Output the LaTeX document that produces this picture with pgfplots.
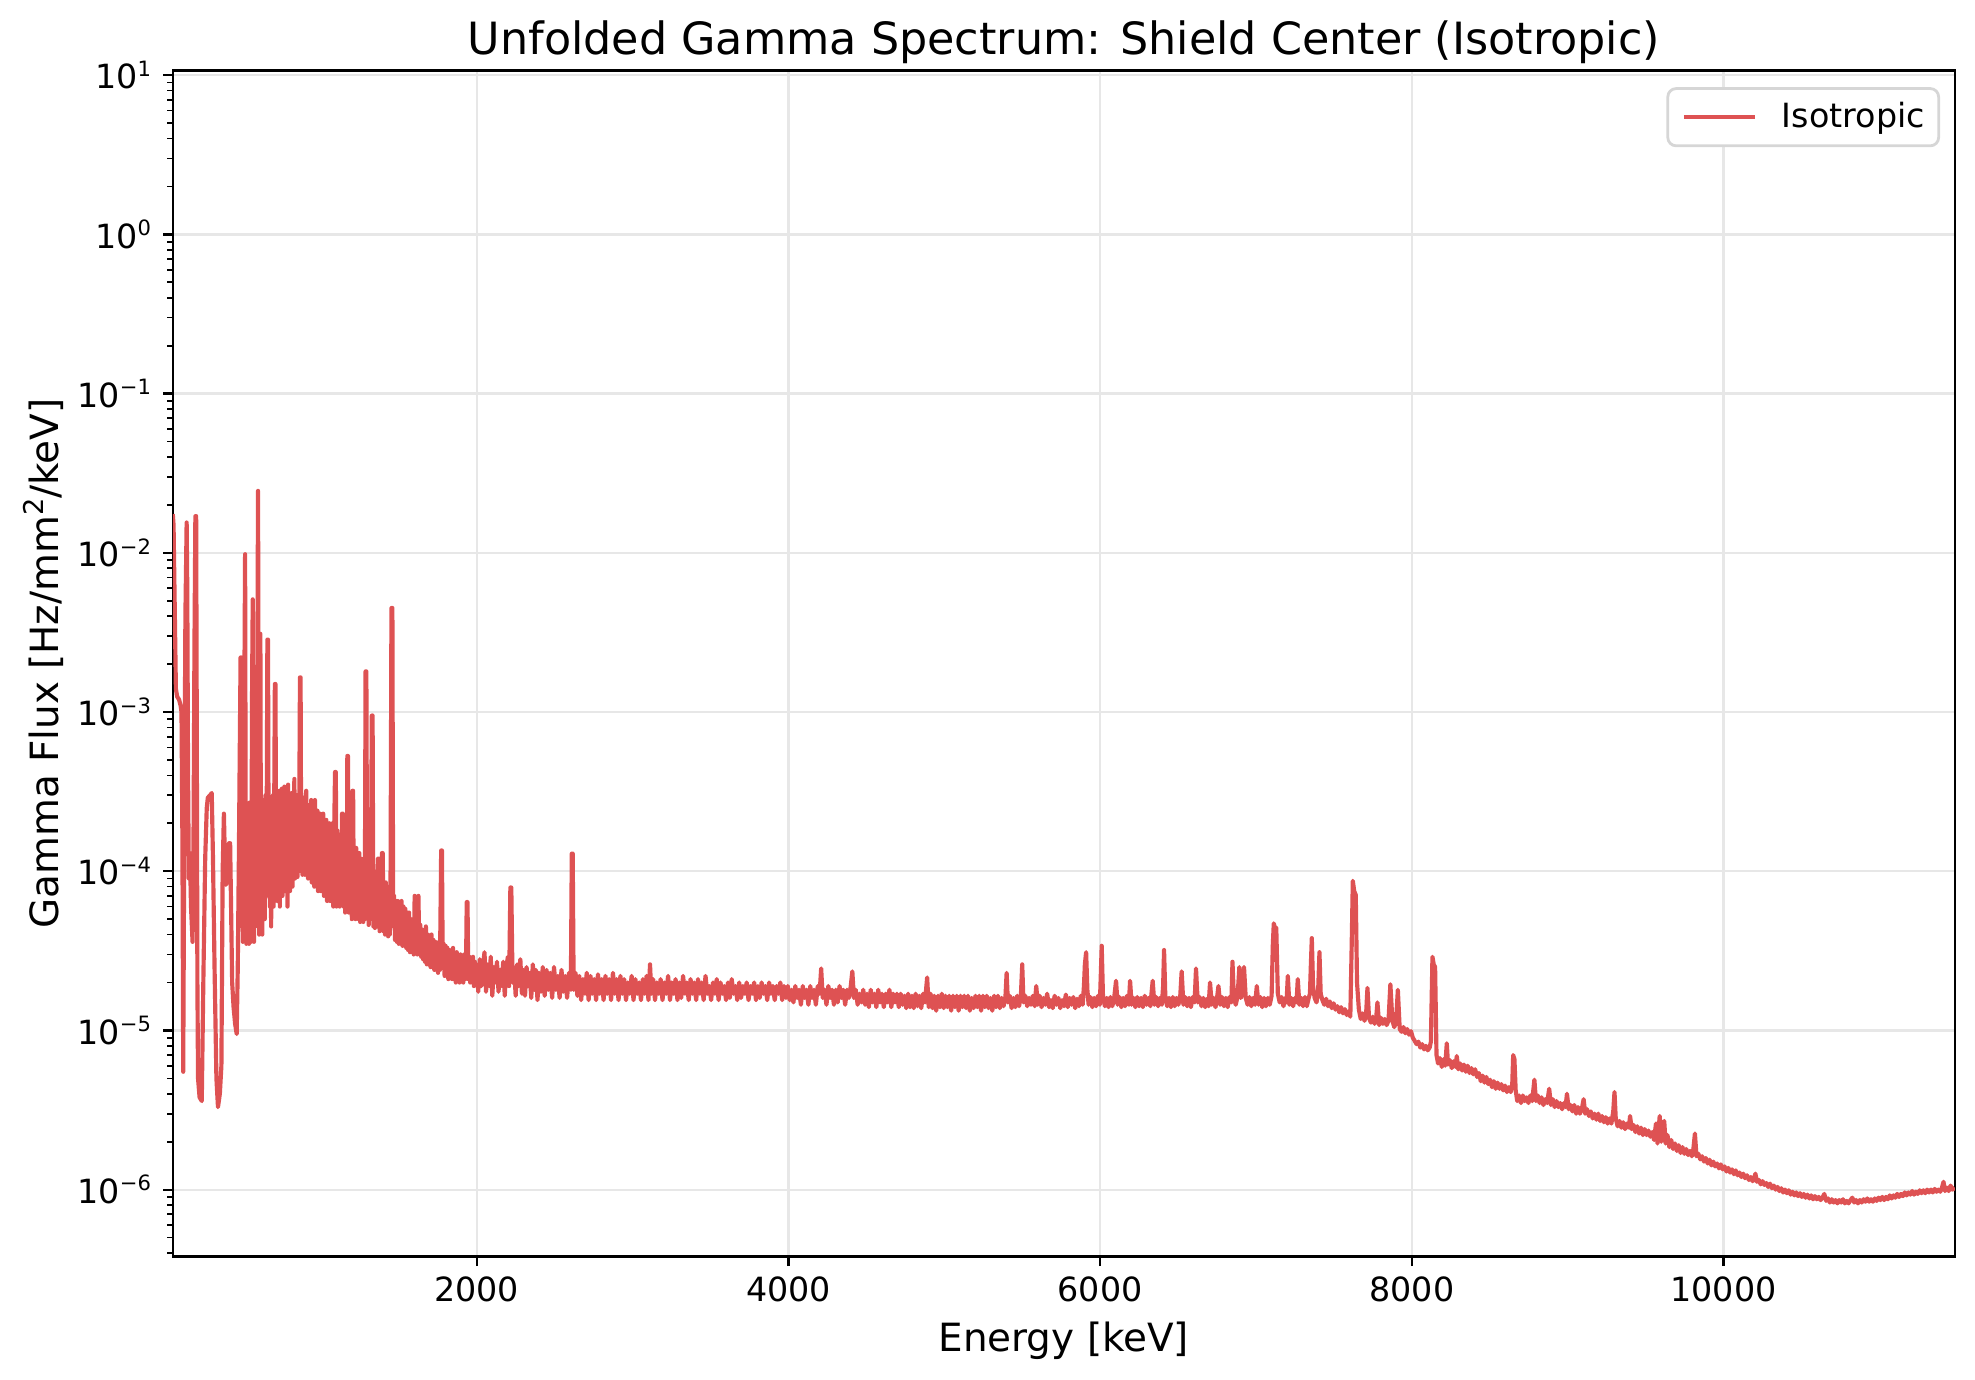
\documentclass[border=0pt]{standalone}
\usepackage{fontspec}
\setmainfont{DejaVu Sans}
\usepackage{pgfplots}
\pgfplotsset{compat=1.18}
\definecolor{isored}{RGB}{222,82,83}
\newcommand{\tsup}[1]{\raisebox{4.5pt}{\fontsize{7.6}{8}\selectfont #1}}
\begin{document}
\begin{tikzpicture}
\begin{axis}[
 scale only axis, width=641.5pt, height=426.96pt,
 xmin=50, xmax=11483, ymode=log, ymin=3.8e-7, ymax=10.7,
 scaled x ticks=false,
 xtick={2000,4000,6000,8000,10000}, xticklabels={2000,4000,6000,8000,10000},
 ytick={1e-6,1e-5,1e-4,1e-3,1e-2,1e-1,1,10},
 yticklabels={10\tsup{−6},10\tsup{−5},10\tsup{−4},10\tsup{−3},10\tsup{−2},10\tsup{−1},10\tsup{0},10\tsup{1}},
 minor ytick={4e-7,5e-7,6e-7,7e-7,8e-7,9e-7,
  2e-6,3e-6,4e-6,5e-6,6e-6,7e-6,8e-6,9e-6,
  2e-5,3e-5,4e-5,5e-5,6e-5,7e-5,8e-5,9e-5,
  2e-4,3e-4,4e-4,5e-4,6e-4,7e-4,8e-4,9e-4,
  2e-3,3e-3,4e-3,5e-3,6e-3,7e-3,8e-3,9e-3,
  2e-2,3e-2,4e-2,5e-2,6e-2,7e-2,8e-2,9e-2,
  0.2,0.3,0.4,0.5,0.6,0.7,0.8,0.9,
  2,3,4,5,6,7,8,9},
 xtick pos=left, ytick pos=left, tick align=outside,
 major tick length=3.5pt, minor tick length=2pt,
 every tick/.append style={black},
 every major tick/.append style={line width=0.8pt},
 every minor tick/.append style={line width=0.6pt},
 axis line style={line width=0.8pt},
 xmajorgrids, ymajorgrids, yminorgrids=false,
 major grid style={color=black!9.4, line width=0.8pt},
 tick label style={font=\fontsize{12}{14.4}\selectfont},
 xticklabel style={anchor=north, inner sep=0pt, yshift=-3.7pt},
 yticklabel style={anchor=east, inner sep=0pt, xshift=-4.1pt},
 title={Unfolded Gamma Spectrum: Shield Center (Isotropic)},
 every axis title/.style={at={(0.5,1)}, anchor=base, yshift=5.8pt, inner sep=0pt, font=\fontsize{16}{19}\selectfont},
 xlabel={Energy [keV]},
 xlabel style={at={(axis description cs:0.5,0)}, anchor=base, yshift=-34.3pt, inner sep=0pt, font=\fontsize{14}{17}\selectfont},
 ylabel={Gamma Flux [Hz/mm\raisebox{5.25pt}{\fontsize{9.8}{10}\selectfont 2}/keV]},
 ylabel style={at={(axis description cs:-0.06438,0.5)}, anchor=base, inner sep=0pt, font=\fontsize{14}{17}\selectfont},
 legend style={at={(1,1)}, anchor=north east, xshift=-5.3pt, yshift=-6pt, draw=black!16, line width=1pt, rounded corners=3pt, fill=white, inner xsep=5pt, inner ysep=5pt, column sep=9pt, nodes={inner sep=0pt}, font=\fontsize{12}{14.4}\selectfont},
 legend cell align=left,
 legend image code/.code={\draw[#1] (0pt,0pt) -- (25.6pt,0pt);},
]
\addplot[isored, line width=1.5pt, line join=round] table {
E v
50 1.75e-2
55 1.5e-2
62 5e-3
70 1.4e-3
78 1.25e-3
90 1.2e-3
100 1.1e-3
106 1.0e-3
112 1.5e-4
117 5.5e-6
124 2e-4
131 4e-3
139 1.55e-2
143 6e-3
148 4e-4
153 9e-5
160 1.3e-4
167 6e-5
177 3.6e-5
183 1.5e-4
189 2.5e-3
195 1.7e-2
200 1.7e-2
204 8e-4
208 2e-5
212 5e-6
222 3.8e-6
236 3.6e-6
246 2e-5
258 1.2e-4
268 2.5e-4
275 2.9e-4
290 3.0e-4
300 3.1e-4
308 1.2e-4
318 2.5e-5
330 5e-6
340 3.3e-6
352 4e-6
362 6e-6
370 1e-4
378 2.3e-4
386 1e-4
391 8.2e-5
397 1.2e-4
404 8.5e-5
411 1.5e-4
418 1.5e-4
424 6e-5
431 2e-5
440 1.4e-5
450 1.1e-5
460 9.5e-6
467 2.5e-5
474 1.2e-4
480 6e-4
485 2.2e-3
491 2.2e-3
495 1.5e-4
500 3.6e-5
505 2.5e-4
509 1.2e-3
514 9.8e-3
518 1.5e-4
522 3.5e-5
527 2.6e-4
531 6e-5
535 2.2e-4
539 3.5e-5
543 2.7e-4
547 9e-5
551 3.6e-5
556 2.4e-4
559 1.5e-3
563 5.1e-3
567 2e-4
571 3.6e-5
575 2.6e-4
579 4.5e-5
583 2.3e-4
587 7e-5
591 3.5e-4
594 4e-3
597 2.45e-2
601 8e-4
604 4e-5
608 3.1e-3
612 3.1e-3
616 6e-5
620 2.5e-4
624 4e-5
628 2.8e-4
632 8e-5
636 2.4e-4
640 5e-5
645 3e-4
649 7e-5
653 2.6e-4
657 2.85e-3
661 2.85e-3
665 1.2e-4
669 2.7e-4
673 6e-5
677 2.8e-4
681 4.5e-5
685 2.5e-4
689 8e-5
693 3e-4
697 6e-5
701 2.8e-4
705 1.5e-3
709 1.5e-3
713 1e-4
717 3e-4
721 6.5e-5
725 2.6e-4
729 9e-5
733 3.2e-4
737 6e-5
741 2.7e-4
745 8e-5
750 3.3e-4
754 7e-5
758 2.4e-4
762 9e-5
766 3.4e-4
770 7.5e-5
774 3e-4
778 8e-5
782 2.6e-4
786 6e-5
790 3.5e-4
794 8.5e-5
798 2.9e-4
802 7.5e-5
806 2.5e-4
810 9e-5
814 3.1e-4
818 8e-5
822 2.7e-4
826 9.5e-5
830 3.8e-4
834 9e-5
838 2.6e-4
842 1e-4
846 3.0e-4
850 9.2e-5
854 2.4e-4
858 1e-4
862 2.8e-4
866 1.65e-3
870 1.65e-3
874 1.1e-4
878 2.5e-4
882 9.5e-5
886 2.9e-4
890 1e-4
894 2.4e-4
898 9.5e-5
902 2.7e-4
906 3.2e-4
910 1e-4
914 2.5e-4
918 9e-5
922 2.6e-4
926 9.5e-5
930 2.3e-4
934 9e-5
938 2.8e-4
942 8.5e-5
946 2.4e-4
950 9e-5
954 2.5e-4
958 8e-5
962 2.8e-4
966 8.5e-5
970 2.2e-4
974 8e-5
978 2.4e-4
982 7.5e-5
986 2.1e-4
990 8e-5
995 2.3e-4
1000 7.5e-5
1005 2e-4
1010 8e-5
1015 2.3e-4
1020 7e-5
1025 1.9e-4
1030 7.5e-5
1035 2.1e-4
1040 6.5e-5
1045 1.8e-4
1050 7e-5
1055 2e-4
1060 6.5e-5
1065 1.8e-4
1070 7e-5
1075 2e-4
1080 6e-5
1086 1.9e-4
1091 4.2e-4
1096 4.2e-4
1101 6e-5
1106 1.8e-4
1111 6.5e-5
1116 1.7e-4
1121 6e-5
1126 1.6e-4
1131 7e-5
1136 2.3e-4
1141 2.3e-4
1146 6e-5
1151 1.6e-4
1156 5.5e-5
1161 1.5e-4
1166 6e-5
1170 5.3e-4
1174 5.3e-4
1179 5.5e-5
1184 1.5e-4
1189 6e-5
1194 1.4e-4
1199 5e-5
1203 3.2e-4
1207 3.2e-4
1212 5.5e-5
1217 1.3e-4
1222 5e-5
1227 1.4e-4
1232 5.5e-5
1237 1.2e-4
1242 5e-5
1247 1.3e-4
1252 4.8e-5
1257 1.2e-4
1262 5e-5
1267 1.15e-4
1272 4.8e-5
1277 1.2e-4
1282 5e-5
1287 1.8e-3
1292 1.8e-3
1297 6e-5
1302 1.1e-4
1307 4.6e-5
1312 1e-4
1317 5e-5
1322 1.1e-4
1327 9.5e-4
1332 9.5e-4
1337 4.5e-5
1342 1e-4
1347 4.4e-5
1352 9.5e-5
1357 4.5e-5
1362 9e-5
1367 1.2e-4
1372 1.2e-4
1377 4.2e-5
1382 8.5e-5
1387 4.3e-5
1392 1.3e-4
1397 1.3e-4
1402 4.2e-5
1407 8e-5
1412 4e-5
1417 8.5e-5
1422 4.1e-5
1427 7.5e-5
1432 3.9e-5
1437 8e-5
1442 4e-5
1447 7.5e-5
1453 4.5e-3
1459 4.5e-3
1464 4.5e-5
1470 7e-5
1476 3.7e-5
1482 6.5e-5
1488 3.6e-5
1494 6.5e-5
1500 3.5e-5
1506 6e-5
1512 3.5e-5
1518 6.5e-5
1524 3.4e-5
1530 6e-5
1536 3.4e-5
1542 5.8e-5
1548 3.3e-5
1554 5.5e-5
1560 3.2e-5
1566 5.5e-5
1572 3.1e-5
1578 5e-5
1584 3.2e-5
1590 5e-5
1596 3e-5
1602 7e-5
1608 3.3e-5
1614 4.8e-5
1620 3e-5
1626 7e-5
1632 3.2e-5
1638 4.6e-5
1644 2.9e-5
1650 4.3e-5
1656 2.8e-5
1662 4.2e-5
1668 2.7e-5
1674 4.5e-5
1680 2.6e-5
1686 4e-5
1692 2.6e-5
1698 3.8e-5
1704 2.5e-5
1710 4e-5
1716 2.5e-5
1722 3.7e-5
1728 2.4e-5
1734 3.6e-5
1740 2.4e-5
1746 3.5e-5
1752 2.3e-5
1758 3.6e-5
1764 2.4e-5
1772 1.35e-4
1777 1.35e-4
1782 2.5e-5
1788 3.5e-5
1794 2.2e-5
1800 3.4e-5
1806 2.2e-5
1812 3.3e-5
1818 2.1e-5
1824 3.2e-5
1830 2.2e-5
1836 3e-5
1842 2.1e-5
1848 3.3e-5
1854 2.1e-5
1860 3e-5
1866 2e-5
1872 3.1e-5
1878 2.1e-5
1884 2.9e-5
1890 2e-5
1896 3e-5
1902 2.1e-5
1908 2.9e-5
1914 2e-5
1920 3e-5
1926 2.1e-5
1932 2.8e-5
1936 6.4e-5
1941 6.4e-5
1946 2.1e-5
1952 2.9e-5
1958 2e-5
1964 2.8e-5
1970 2e-5
1976 2.9e-5
1982 1.9e-5
1988 2.7e-5
1994 2e-5
2000 2.6e-5
2010 1.75e-5
2020 2.8e-5
2030 1.9e-5
2040 2.5e-5
2050 3.1e-5
2060 1.75e-5
2070 2.6e-5
2080 1.9e-5
2090 2.9e-5
2100 1.65e-5
2110 2.5e-5
2120 2e-5
2130 2.7e-5
2140 1.75e-5
2150 2.4e-5
2160 1.9e-5
2170 2.7e-5
2180 1.65e-5
2190 2.5e-5
2200 2.9e-5
2208 1.9e-5
2216 7.9e-5
2222 7.9e-5
2230 2e-5
2240 2.5e-5
2250 1.65e-5
2260 2.6e-5
2270 1.9e-5
2280 2.8e-5
2290 1.7e-5
2300 2.4e-5
2310 1.65e-5
2320 2.5e-5
2330 1.9e-5
2340 2.3e-5
2350 1.6e-5
2360 2.6e-5
2370 1.8e-5
2380 2.4e-5
2390 1.55e-5
2400 2.3e-5
2412 1.75e-5
2424 2.5e-5
2436 1.65e-5
2448 2.4e-5
2460 1.8e-5
2472 2.3e-5
2484 1.6e-5
2496 2.5e-5
2508 1.8e-5
2520 2.2e-5
2532 1.6e-5
2544 2.4e-5
2556 1.75e-5
2568 2.2e-5
2580 1.6e-5
2592 2.3e-5
2604 1.8e-5
2610 1.29e-4
2616 1.29e-4
2622 1.8e-5
2634 2.3e-5
2646 1.65e-5
2658 2.2e-5
2670 1.55e-5
2682 2.1e-5
2694 1.7e-5
2706 2.3e-5
2718 1.55e-5
2730 2.2e-5
2742 1.7e-5
2754 2.1e-5
2766 1.55e-5
2778 2.25e-5
2790 1.7e-5
2802 2.1e-5
2814 1.55e-5
2826 2.2e-5
2838 1.7e-5
2850 2.1e-5
2862 1.55e-5
2874 2.3e-5
2886 1.7e-5
2898 2.1e-5
2910 1.55e-5
2922 2.2e-5
2934 1.7e-5
2946 2.1e-5
2958 1.55e-5
2970 2.0e-5
2982 1.7e-5
2994 2.2e-5
3006 1.55e-5
3018 2.1e-5
3030 1.7e-5
3042 2.0e-5
3054 1.55e-5
3066 2.1e-5
3078 1.7e-5
3090 2.2e-5
3102 1.55e-5
3112 2.6e-5
3120 1.7e-5
3132 2.1e-5
3144 1.55e-5
3156 2.0e-5
3168 1.7e-5
3180 2.1e-5
3192 1.55e-5
3204 2.0e-5
3216 1.7e-5
3228 2.2e-5
3240 1.55e-5
3252 2.0e-5
3264 1.7e-5
3276 2.1e-5
3288 1.55e-5
3300 2.0e-5
3312 1.6e-5
3324 2.2e-5
3336 1.7e-5
3348 2.0e-5
3360 1.55e-5
3372 2.1e-5
3384 1.7e-5
3396 2.0e-5
3408 1.55e-5
3420 2.1e-5
3432 1.7e-5
3444 2.0e-5
3456 1.55e-5
3468 2.2e-5
3480 1.7e-5
3492 1.9e-5
3504 1.55e-5
3516 2.0e-5
3528 1.7e-5
3540 2.1e-5
3552 1.55e-5
3564 2.0e-5
3576 1.7e-5
3588 1.9e-5
3600 1.55e-5
3612 2.0e-5
3624 1.6e-5
3636 2.1e-5
3648 1.7e-5
3660 1.9e-5
3672 1.55e-5
3684 2.0e-5
3696 1.6e-5
3708 1.9e-5
3720 1.7e-5
3732 2.0e-5
3744 1.55e-5
3756 1.9e-5
3768 1.7e-5
3780 2.0e-5
3792 1.55e-5
3804 1.9e-5
3816 1.6e-5
3828 2.0e-5
3840 1.7e-5
3852 1.9e-5
3864 1.55e-5
3876 2.0e-5
3888 1.7e-5
3900 1.9e-5
3912 1.55e-5
3924 1.9e-5
3936 1.7e-5
3948 2.0e-5
3960 1.55e-5
3972 1.9e-5
3984 1.6e-5
3996 1.9e-5
4008 1.55e-5
4020 1.8e-5
4032 1.5e-5
4044 1.9e-5
4056 1.6e-5
4068 1.8e-5
4080 1.45e-5
4092 1.9e-5
4104 1.6e-5
4116 1.8e-5
4128 1.45e-5
4140 1.9e-5
4152 1.6e-5
4164 1.8e-5
4176 1.45e-5
4188 1.9e-5
4200 1.7e-5
4210 2.45e-5
4220 1.6e-5
4232 1.8e-5
4244 1.45e-5
4256 1.9e-5
4268 1.6e-5
4280 1.8e-5
4292 1.45e-5
4304 1.8e-5
4316 1.5e-5
4328 1.9e-5
4340 1.6e-5
4352 1.8e-5
4364 1.45e-5
4376 1.8e-5
4388 1.6e-5
4400 1.9e-5
4410 2.35e-5
4420 1.6e-5
4432 1.8e-5
4444 1.45e-5
4456 1.7e-5
4468 1.5e-5
4480 1.8e-5
4492 1.45e-5
4504 1.7e-5
4516 1.4e-5
4528 1.8e-5
4540 1.5e-5
4552 1.7e-5
4564 1.4e-5
4576 1.8e-5
4588 1.5e-5
4600 1.7e-5
4612 1.4e-5
4624 1.7e-5
4636 1.5e-5
4648 1.8e-5
4660 1.4e-5
4672 1.7e-5
4684 1.5e-5
4696 1.7e-5
4708 1.4e-5
4720 1.7e-5
4732 1.45e-5
4744 1.65e-5
4756 1.38e-5
4768 1.7e-5
4780 1.4e-5
4792 1.65e-5
4804 1.38e-5
4816 1.7e-5
4828 1.42e-5
4840 1.65e-5
4852 1.38e-5
4864 1.7e-5
4876 1.5e-5
4890 2.15e-5
4900 1.4e-5
4912 1.7e-5
4924 1.38e-5
4936 1.65e-5
4948 1.33e-5
4960 1.65e-5
4972 1.4e-5
4984 1.7e-5
4996 1.38e-5
5008 1.65e-5
5020 1.4e-5
5032 1.65e-5
5044 1.33e-5
5056 1.65e-5
5068 1.4e-5
5080 1.65e-5
5092 1.33e-5
5104 1.65e-5
5116 1.4e-5
5128 1.65e-5
5140 1.38e-5
5152 1.65e-5
5164 1.33e-5
5176 1.6e-5
5188 1.38e-5
5200 1.65e-5
5212 1.4e-5
5224 1.65e-5
5236 1.33e-5
5248 1.65e-5
5260 1.4e-5
5272 1.65e-5
5284 1.38e-5
5296 1.6e-5
5308 1.33e-5
5320 1.65e-5
5332 1.4e-5
5344 1.65e-5
5356 1.38e-5
5368 1.6e-5
5380 1.42e-5
5392 1.6e-5
5400 2.3e-5
5408 1.5e-5
5420 1.65e-5
5432 1.38e-5
5444 1.6e-5
5456 1.4e-5
5468 1.65e-5
5480 1.42e-5
5492 1.7e-5
5500 2.6e-5
5508 1.5e-5
5520 1.65e-5
5532 1.42e-5
5544 1.6e-5
5556 1.45e-5
5568 1.65e-5
5580 1.42e-5
5590 1.9e-5
5600 1.45e-5
5612 1.65e-5
5624 1.4e-5
5636 1.6e-5
5648 1.45e-5
5660 1.7e-5
5672 1.4e-5
5684 1.55e-5
5696 1.38e-5
5708 1.65e-5
5720 1.45e-5
5732 1.6e-5
5744 1.38e-5
5756 1.55e-5
5768 1.42e-5
5780 1.68e-5
5792 1.4e-5
5804 1.6e-5
5816 1.45e-5
5828 1.62e-5
5840 1.38e-5
5852 1.58e-5
5864 1.42e-5
5876 1.65e-5
5888 1.45e-5
5896 1.9e-5
5902 2.6e-5
5910 3.1e-5
5918 1.8e-5
5926 1.45e-5
5938 1.62e-5
5950 1.4e-5
5962 1.6e-5
5974 1.42e-5
5986 1.65e-5
5998 1.45e-5
6004 2.2e-5
6010 3.4e-5
6018 1.65e-5
6030 1.42e-5
6042 1.6e-5
6054 1.4e-5
6066 1.62e-5
6078 1.42e-5
6090 1.6e-5
6102 2.05e-5
6112 1.45e-5
6124 1.62e-5
6136 1.4e-5
6148 1.6e-5
6160 1.42e-5
6172 1.65e-5
6184 1.45e-5
6192 2.05e-5
6202 1.45e-5
6214 1.6e-5
6226 1.4e-5
6238 1.62e-5
6250 1.42e-5
6262 1.6e-5
6274 1.4e-5
6286 1.65e-5
6298 1.45e-5
6310 1.6e-5
6322 1.42e-5
6337 2.05e-5
6348 1.45e-5
6360 1.62e-5
6372 1.42e-5
6384 1.6e-5
6396 1.45e-5
6404 1.9e-5
6410 3.2e-5
6418 1.65e-5
6430 1.42e-5
6442 1.6e-5
6454 1.4e-5
6466 1.62e-5
6478 1.42e-5
6490 1.6e-5
6502 1.45e-5
6514 1.65e-5
6523 2.35e-5
6534 1.45e-5
6546 1.62e-5
6558 1.42e-5
6570 1.6e-5
6582 1.4e-5
6594 1.62e-5
6606 1.5e-5
6615 2.45e-5
6626 1.5e-5
6638 1.62e-5
6650 1.42e-5
6662 1.6e-5
6674 1.4e-5
6686 1.58e-5
6696 1.42e-5
6705 2.0e-5
6716 1.45e-5
6728 1.6e-5
6740 1.4e-5
6750 1.6e-5
6759 1.9e-5
6770 1.45e-5
6782 1.62e-5
6794 1.42e-5
6806 1.6e-5
6818 1.4e-5
6830 1.62e-5
6842 1.5e-5
6849 2.7e-5
6858 1.6e-5
6870 1.45e-5
6882 1.65e-5
6893 2.5e-5
6902 1.6e-5
6912 1.7e-5
6923 2.5e-5
6934 1.6e-5
6946 1.45e-5
6958 1.62e-5
6970 1.42e-5
6982 1.6e-5
6994 1.45e-5
7005 1.9e-5
7016 1.45e-5
7028 1.62e-5
7040 1.4e-5
7052 1.6e-5
7064 1.42e-5
7076 1.6e-5
7088 1.45e-5
7100 1.65e-5
7108 3.5e-5
7114 4.7e-5
7122 4.4e-5
7130 4.4e-5
7140 1.7e-5
7152 1.5e-5
7164 1.62e-5
7176 1.42e-5
7188 1.6e-5
7196 1.5e-5
7204 2.2e-5
7214 1.45e-5
7226 1.6e-5
7238 1.42e-5
7250 1.6e-5
7260 1.5e-5
7268 2.1e-5
7278 1.45e-5
7290 1.6e-5
7302 1.42e-5
7314 1.62e-5
7326 1.42e-5
7338 1.6e-5
7346 1.7e-5
7352 2.6e-5
7358 3.8e-5
7366 1.9e-5
7376 1.6e-5
7388 1.5e-5
7398 1.7e-5
7407 3.1e-5
7415 1.7e-5
7426 1.55e-5
7438 1.45e-5
7450 1.58e-5
7462 1.42e-5
7474 1.52e-5
7486 1.38e-5
7498 1.48e-5
7510 1.35e-5
7522 1.42e-5
7534 1.3e-5
7546 1.4e-5
7558 1.28e-5
7570 1.36e-5
7582 1.25e-5
7594 1.32e-5
7605 1.22e-5
7614 3.5e-5
7621 8.7e-5
7630 7.5e-5
7640 7.1e-5
7648 2.0e-5
7660 1.35e-5
7672 1.18e-5
7684 1.28e-5
7696 1.15e-5
7706 1.25e-5
7715 1.85e-5
7725 1.2e-5
7737 1.12e-5
7749 1.22e-5
7761 1.1e-5
7771 1.2e-5
7779 1.5e-5
7790 1.08e-5
7802 1.2e-5
7814 1.1e-5
7826 1.18e-5
7838 1.08e-5
7850 1.15e-5
7862 1.95e-5
7875 1.15e-5
7887 1.05e-5
7898 1.12e-5
7910 1.8e-5
7922 1.02e-5
7934 9.8e-6
7946 1.05e-5
7958 9.6e-6
7970 1.02e-5
7982 9.4e-6
7994 9.9e-6
8006 9.0e-6
8018 8.6e-6
8030 8.2e-6
8042 8.5e-6
8054 7.8e-6
8066 8.2e-6
8078 7.6e-6
8090 8.0e-6
8102 7.5e-6
8114 7.8e-6
8122 8.5e-6
8128 1.8e-5
8132 2.9e-5
8140 2.6e-5
8149 2.5e-5
8158 7.0e-6
8168 6.2e-6
8180 6.7e-6
8192 5.9e-6
8204 6.6e-6
8214 6.0e-6
8224 8.3e-6
8232 6.1e-6
8244 6.5e-6
8256 5.8e-6
8268 6.4e-6
8280 5.9e-6
8288 6.9e-6
8298 5.7e-6
8310 6.2e-6
8322 5.6e-6
8334 6.1e-6
8346 5.5e-6
8358 6.0e-6
8370 5.4e-6
8382 5.8e-6
8394 5.3e-6
8406 5.7e-6
8418 5.1e-6
8430 5.4e-6
8442 4.8e-6
8454 5.2e-6
8466 4.7e-6
8478 5.1e-6
8490 4.6e-6
8502 4.9e-6
8514 4.4e-6
8526 4.8e-6
8538 4.3e-6
8550 4.7e-6
8562 4.3e-6
8574 4.6e-6
8586 4.2e-6
8598 4.5e-6
8610 4.1e-6
8622 4.4e-6
8634 4.1e-6
8644 4.6e-6
8650 7.0e-6
8658 6.6e-6
8666 4.2e-6
8676 3.6e-6
8688 3.9e-6
8700 3.5e-6
8712 3.9e-6
8724 3.6e-6
8736 3.8e-6
8748 3.5e-6
8760 3.9e-6
8772 3.6e-6
8786 4.9e-6
8796 3.6e-6
8808 3.9e-6
8820 3.5e-6
8832 3.8e-6
8844 3.4e-6
8856 3.7e-6
8868 3.5e-6
8881 4.3e-6
8892 3.4e-6
8904 3.7e-6
8916 3.3e-6
8928 3.6e-6
8940 3.3e-6
8952 3.5e-6
8964 3.2e-6
8976 3.5e-6
8986 3.3e-6
8995 4.0e-6
9006 3.2e-6
9018 3.4e-6
9030 3.1e-6
9042 3.4e-6
9054 3.0e-6
9066 3.3e-6
9078 3.0e-6
9090 3.2e-6
9102 3.7e-6
9112 3.0e-6
9124 3.2e-6
9136 2.9e-6
9148 3.1e-6
9160 2.8e-6
9172 3.0e-6
9184 2.75e-6
9196 3.0e-6
9208 2.7e-6
9220 2.9e-6
9232 2.65e-6
9244 2.85e-6
9256 2.6e-6
9268 2.8e-6
9280 2.6e-6
9292 3.1e-6
9300 4.1e-6
9308 2.8e-6
9320 2.5e-6
9332 2.7e-6
9344 2.45e-6
9356 2.65e-6
9368 2.4e-6
9380 2.6e-6
9392 2.45e-6
9400 2.9e-6
9410 2.4e-6
9422 2.55e-6
9434 2.3e-6
9446 2.5e-6
9458 2.25e-6
9470 2.45e-6
9482 2.2e-6
9494 2.4e-6
9506 2.2e-6
9518 2.35e-6
9530 2.15e-6
9542 2.3e-6
9554 2.05e-6
9566 2.6e-6
9576 1.95e-6
9590 2.9e-6
9600 2.0e-6
9610 2.5e-6
9619 2.7e-6
9628 1.95e-6
9640 2.2e-6
9652 1.85e-6
9664 2.05e-6
9676 1.8e-6
9688 1.95e-6
9700 1.75e-6
9712 1.9e-6
9724 1.7e-6
9736 1.85e-6
9748 1.68e-6
9760 1.8e-6
9772 1.65e-6
9784 1.75e-6
9796 1.62e-6
9806 1.8e-6
9816 2.25e-6
9826 1.62e-6
9838 1.68e-6
9850 1.55e-6
9862 1.62e-6
9874 1.5e-6
9886 1.58e-6
9898 1.46e-6
9910 1.54e-6
9922 1.42e-6
9934 1.5e-6
9946 1.4e-6
9958 1.46e-6
9970 1.36e-6
9982 1.44e-6
9994 1.34e-6
10006 1.4e-6
10018 1.3e-6
10030 1.37e-6
10042 1.28e-6
10054 1.34e-6
10066 1.25e-6
10078 1.32e-6
10090 1.23e-6
10102 1.28e-6
10114 1.2e-6
10126 1.26e-6
10138 1.18e-6
10150 1.23e-6
10162 1.15e-6
10174 1.2e-6
10186 1.13e-6
10196 1.18e-6
10204 1.26e-6
10214 1.12e-6
10226 1.15e-6
10238 1.08e-6
10250 1.13e-6
10262 1.07e-6
10274 1.1e-6
10286 1.04e-6
10298 1.09e-6
10310 1.02e-6
10322 1.06e-6
10334 1.0e-6
10346 1.04e-6
10358 9.8e-7
10370 1.02e-6
10382 9.6e-7
10394 1.0e-6
10406 9.5e-7
10418 9.9e-7
10430 9.3e-7
10442 9.7e-7
10454 9.2e-7
10466 9.6e-7
10478 9.1e-7
10490 9.5e-7
10502 9.0e-7
10514 9.4e-7
10526 8.9e-7
10538 9.3e-7
10550 8.8e-7
10562 9.2e-7
10574 8.7e-7
10586 9.1e-7
10598 8.7e-7
10610 9.0e-7
10622 8.6e-7
10634 8.9e-7
10646 9.4e-7
10658 8.5e-7
10670 8.8e-7
10682 8.3e-7
10694 8.7e-7
10706 8.3e-7
10718 8.6e-7
10730 8.2e-7
10742 8.6e-7
10754 8.3e-7
10766 8.7e-7
10778 8.2e-7
10790 8.5e-7
10802 8.2e-7
10814 8.6e-7
10826 8.9e-7
10838 8.3e-7
10850 8.6e-7
10862 8.2e-7
10874 8.6e-7
10886 8.3e-7
10898 8.7e-7
10910 8.4e-7
10922 8.8e-7
10934 8.4e-7
10946 8.7e-7
10958 8.4e-7
10970 8.8e-7
10982 8.5e-7
10994 8.9e-7
11006 8.6e-7
11018 9.0e-7
11030 8.6e-7
11042 9.0e-7
11054 8.7e-7
11066 9.2e-7
11078 8.8e-7
11090 9.2e-7
11102 8.9e-7
11114 9.4e-7
11126 9.0e-7
11138 9.4e-7
11150 9.1e-7
11162 9.6e-7
11174 9.2e-7
11186 9.6e-7
11198 9.3e-7
11210 9.8e-7
11222 9.3e-7
11234 9.7e-7
11246 9.4e-7
11258 9.9e-7
11270 9.5e-7
11282 9.9e-7
11294 9.5e-7
11306 1.0e-6
11318 9.6e-7
11330 1.0e-6
11342 9.6e-7
11354 1.01e-6
11366 9.7e-7
11378 1.0e-6
11390 9.7e-7
11400 1.02e-6
11411 1.12e-6
11420 9.8e-7
11432 1.03e-6
11444 9.8e-7
11456 1.06e-6
11468 1.0e-6
11483 1.03e-6
};
\addlegendentry{Isotropic}
\end{axis}
\path[use as bounding box] ([xshift=-62.2pt,yshift=-44.1pt]current axis.south west) rectangle ([xshift=7.3pt,yshift=25.38pt]current axis.north east);
\end{tikzpicture}
\end{document}
